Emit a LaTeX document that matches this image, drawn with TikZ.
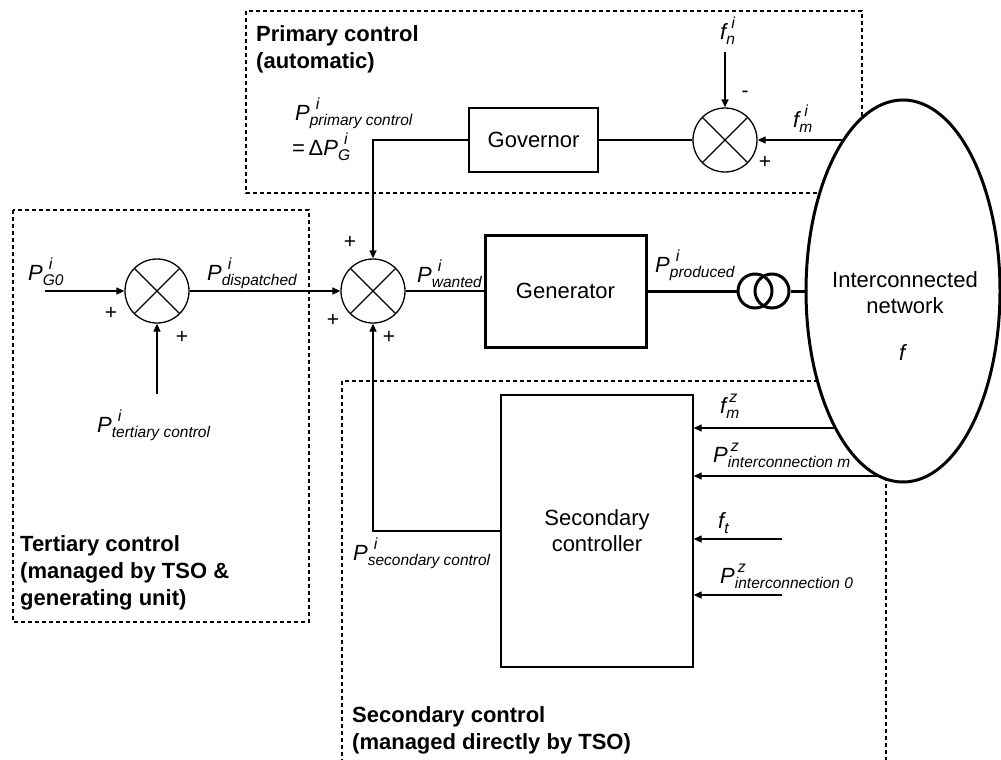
\documentclass[tikz,border=0pt]{standalone}
\usepackage{fontspec}
\setmainfont{Liberation Sans}
\usetikzlibrary{arrows.meta,shapes.geometric}
\newcommand{\symlab}[4][6pt]{{\fontsize{22}{24}\selectfont\itshape #2}\rlap{\raisebox{11pt}{\fontsize{16}{16}\selectfont\itshape\hspace{#1}#3}}\raisebox{-5pt}{\fontsize{15.5}{16}\selectfont\itshape #4}}
\begin{document}
\begin{tikzpicture}[x=1pt,y=-1pt,
  every node/.style={font=\fontsize{22}{26}\selectfont},
  ln/.style={line width=1.3pt},
  arr/.style={ln,-{Triangle[length=8pt,width=7pt]}},
  dbox/.style={line width=1.2pt, dash pattern=on 4pt off 3pt},
  blk/.style={draw, line width=1.3pt, rectangle, inner sep=0},
  sumj/.style={circle, draw, line width=1.3pt, minimum size=64pt, inner sep=0,
    path picture={\draw[line width=1.3pt] (path picture bounding box.north west) -- (path picture bounding box.south east)
      (path picture bounding box.north east) -- (path picture bounding box.south west);}},
  trafo/.style={circle, draw, line width=3pt, minimum size=34pt, inner sep=0},
  lab/.style={anchor=base west, inner sep=0},
  sgn/.style={inner sep=0, font=\fontsize{21}{22}\selectfont},
  ttl/.style={anchor=north west, inner sep=0, align=left, font=\fontsize{22}{27}\selectfont\bfseries}]
\useasboundingbox (0,0) rectangle (1001,760);
\clip (0,0) rectangle (1001,760);
\fill[white] (0,0) rectangle (1001,760);

% dashed regions
\draw[dbox] (246,11) rectangle (862,193);
\draw[dbox] (13,210) rectangle (309,622);
\draw[dbox] (342,381) rectangle (886,775);

% titles
\node[ttl] (tprim) at (256,25) {Primary control\\(automatic)};
\node[ttl] (tter) at (20,535) {Tertiary control\\(managed by TSO \&\\generating unit)};
\node[ttl] (tsec) at (352,706) {Secondary control\\(managed directly by TSO)};

% blocks
\node[blk, minimum width=129pt, minimum height=64pt] (gov) at (533.5,140) {Governor};
\node[blk, line width=3pt, minimum width=161pt, minimum height=112pt] (gen) at (565.5,291) {Generator};
\node[blk, minimum width=192pt, minimum height=272pt, align=center] (sec) at (597,531) {Secondary\\controller};

\node[sumj] (s1) at (725,140) {};
\node[sumj] (s2) at (373,291) {};
\node[sumj] (s3) at (157,291) {};

\node[trafo] (t1) at (755,291) {};
\node[trafo] (t2) at (772,291) {};

\node[ellipse, draw, line width=3pt, fill=white, minimum width=194pt, minimum height=382pt, inner sep=0] (net) at (903,291) {};
\node[align=center, inner sep=0] (nettxt) at (905,293) {Interconnected\\network};
\node[inner sep=0] (netf) at (903,353) {\textit{f}};

% free ends
\coordinate (fni) at (725,52);
\coordinate (fmi) at (844,140);
\coordinate (pg0) at (45,291);
\coordinate (pter) at (157,394);
\coordinate (fmz) at (835,428);
\coordinate (pzm) at (877,476);
\coordinate (ft) at (782,539);
\coordinate (pz0) at (782,595);

% connectors
\draw[arr] (fni) -- (s1.north);
\draw[arr] (fmi) -- (s1.east);
\draw[ln] (s1.west) -- (gov.east);
\draw[arr] (gov.west) -| (s2.north);
\draw[arr] (pg0) -- (s3.west);
\draw[arr] (pter) -- (s3.south);
\draw[arr] (s3.east) -- (s2.west);
\draw[ln] (s2.east) -- (gen.west);
\draw[line width=3pt] (gen.east) -- (t1.west);
\draw[line width=3pt] (t2.east) -- (net.west);
\draw[arr] (sec.west) -| (s2.south);
\draw[arr] (fmz) -- (sec.east |- fmz);
\draw[arr] (pzm) -- (sec.east |- pzm);
\draw[arr] (ft) -- (sec.east |- ft);
\draw[arr] (pz0) -- (sec.east |- pz0);

% signal labels
\node[lab] (lpg0) at (28,280) {\symlab{P}{i}{G0}};
\node[lab] (ldisp) at (207,280) {\symlab{P}{i}{dispatched}};
\node[lab] (lter) at (97,432) {\symlab{P}{i}{tertiary control}};
\node[lab] (lwant) at (417,282) {\symlab{P}{i}{wanted}};
\node[lab] (lprod) at (655,272) {\symlab{P}{i}{produced}};
\node[lab] (lprim) at (295,120) {\symlab{P}{i}{primary control}};
\node[lab] (ldelta) at (292,155) {=\,Δ\symlab{P}{i}{G}};
\node[lab] (lfni) at (720,40) {\symlab[5pt]{f}{i}{n}};
\node[lab] (lfmi) at (793,127) {\symlab[5pt]{f}{i}{m}};
\node[lab] (lfmz) at (720,413) {\symlab[3pt]{f}{z}{m}};
\node[lab] (lpzm) at (713,462) {\symlab[3pt]{P}{z}{interconnection m}};
\node[lab] (lft) at (718,528) {\symlab{f}{}{t}};
\node[lab] (lpz0) at (720,583) {\symlab[3pt]{P}{z}{interconnection 0}};
\node[lab] (lsec) at (353,560) {\symlab{P}{i}{secondary control}};

% signs
\node[sgn] (p1) at (111,313) {+};
\node[sgn] (p2) at (182,337) {+};
\node[sgn] (p3) at (350,242) {+};
\node[sgn] (p4) at (333,320) {+};
\node[sgn] (p5) at (389,337) {+};
\node[sgn] (m1) at (745,94) {-};
\node[sgn] (p6) at (765,162) {+};
\end{tikzpicture}
\end{document}
